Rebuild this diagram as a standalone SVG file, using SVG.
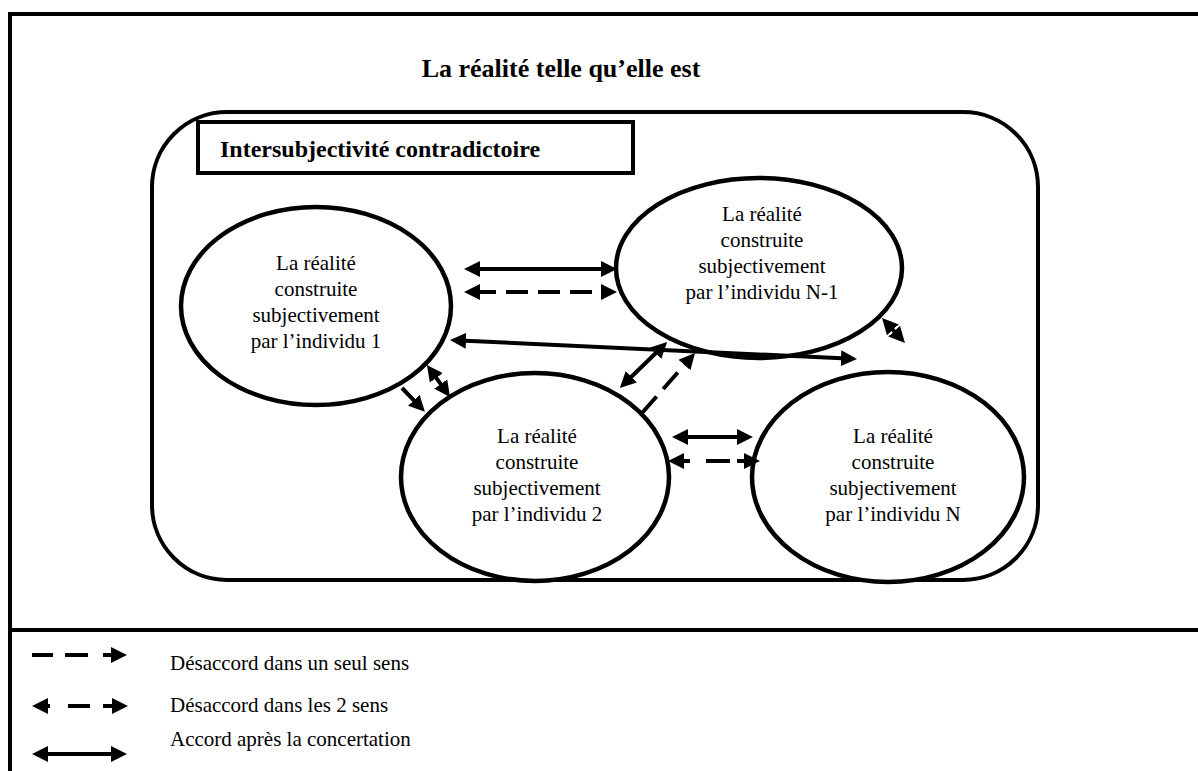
<svg xmlns="http://www.w3.org/2000/svg" width="1198" height="771" viewBox="0 0 1198 771">
<style>
.ln{stroke:#000;stroke-width:4;fill:none}
.sh{stroke:#000;stroke-width:4.5;fill:#fff}
.t{font-family:"Liberation Serif","Times New Roman",serif;font-size:21px;fill:#000}
.c{text-anchor:middle}
.b{font-weight:bold}
.d{stroke-dasharray:22 10}
</style>
<defs>
<marker id="ah" viewBox="0 0 16 16" refX="6" refY="8" markerWidth="16" markerHeight="16" markerUnits="userSpaceOnUse" orient="auto-start-reverse">
<path d="M0,0 L16,8 L0,16 Z" fill="#000"/>
</marker>
</defs>
<rect width="1198" height="771" fill="#fff"/>
<g id="frame">
<path class="ln" d="M10,771 V14 H1198"/>
<path class="ln" d="M10,630 H1198"/>
<text class="t b c" x="561" y="77" style="font-size:26px">La réalité telle qu’elle est</text>
</g>
<g id="intersubjectivite">
<rect class="ln" x="152" y="112" width="886" height="468" rx="75" ry="75"/>
<rect class="ln" x="198" y="122" width="435" height="51"/>
<text class="t b" x="220" y="157" style="font-size:24px">Intersubjectivité contradictoire</text>
</g>
<g id="individu1">
<ellipse class="sh" cx="316" cy="306" rx="135" ry="99"/>
<text class="t c" x="316" y="270">La réalité</text>
<text class="t c" x="316" y="296">construite</text>
<text class="t c" x="316" y="322">subjectivement</text>
<text class="t c" x="316" y="348">par l’individu 1</text>
</g>
<g id="individuN-1">
<ellipse class="sh" cx="759" cy="268" rx="143" ry="90"/>
<text class="t c" x="762" y="221">La réalité</text>
<text class="t c" x="762" y="247">construite</text>
<text class="t c" x="762" y="273">subjectivement</text>
<text class="t c" x="762" y="299">par l’individu N-1</text>
</g>
<g id="individu2">
<ellipse class="sh" cx="535" cy="477" rx="134" ry="104"/>
<text class="t c" x="537" y="443">La réalité</text>
<text class="t c" x="537" y="469">construite</text>
<text class="t c" x="537" y="495">subjectivement</text>
<text class="t c" x="537" y="521">par l’individu 2</text>
</g>
<g id="individuN">
<ellipse class="sh" cx="888" cy="477" rx="136" ry="105"/>
<text class="t c" x="893" y="443">La réalité</text>
<text class="t c" x="893" y="469">construite</text>
<text class="t c" x="893" y="495">subjectivement</text>
<text class="t c" x="893" y="521">par l’individu N</text>
</g>
<g id="connectors">
<line class="ln" x1="474" y1="269" x2="607" y2="269" marker-start="url(#ah)" marker-end="url(#ah)"/>
<line class="ln d" x1="474" y1="292" x2="607" y2="292" marker-start="url(#ah)" marker-end="url(#ah)"/>
<line class="ln" x1="460" y1="340.5" x2="847" y2="358.5" marker-start="url(#ah)" marker-end="url(#ah)"/>
<line class="ln" x1="627" y1="381" x2="660" y2="349" marker-start="url(#ah)" marker-end="url(#ah)"/>
<line class="ln d" x1="642" y1="413" x2="688.4" y2="360.5" marker-end="url(#ah)"/>
<line class="ln" x1="402" y1="388" x2="418" y2="404.6" marker-end="url(#ah)"/>
<line class="ln" x1="432.8" y1="373.1" x2="444.2" y2="388.9" marker-start="url(#ah)" marker-end="url(#ah)"/>
<line class="ln" x1="888.8" y1="325.4" x2="898.2" y2="335.6" marker-start="url(#ah)" marker-end="url(#ah)"/>
<line class="ln" x1="682" y1="437" x2="743" y2="437" marker-start="url(#ah)" marker-end="url(#ah)"/>
<line class="ln" x1="678" y1="461" x2="750" y2="461" style="stroke-dasharray:12 16 24 7 30" marker-start="url(#ah)" marker-end="url(#ah)"/>
</g>
<g id="legende">
<line class="ln" x1="32" y1="655" x2="117" y2="655" style="stroke-dasharray:21 12 23 15 30" marker-end="url(#ah)"/>
<line class="ln" x1="42" y1="706" x2="118" y2="706" style="stroke-dasharray:8 18 22 13 30" marker-start="url(#ah)" marker-end="url(#ah)"/>
<line class="ln" x1="42" y1="754" x2="117" y2="754" marker-start="url(#ah)" marker-end="url(#ah)"/>
<text class="t" x="170" y="670">Désaccord dans un seul sens</text>
<text class="t" x="170" y="712">Désaccord dans les 2 sens</text>
<text class="t" x="170" y="746">Accord après la concertation</text>
</g>
</svg>
